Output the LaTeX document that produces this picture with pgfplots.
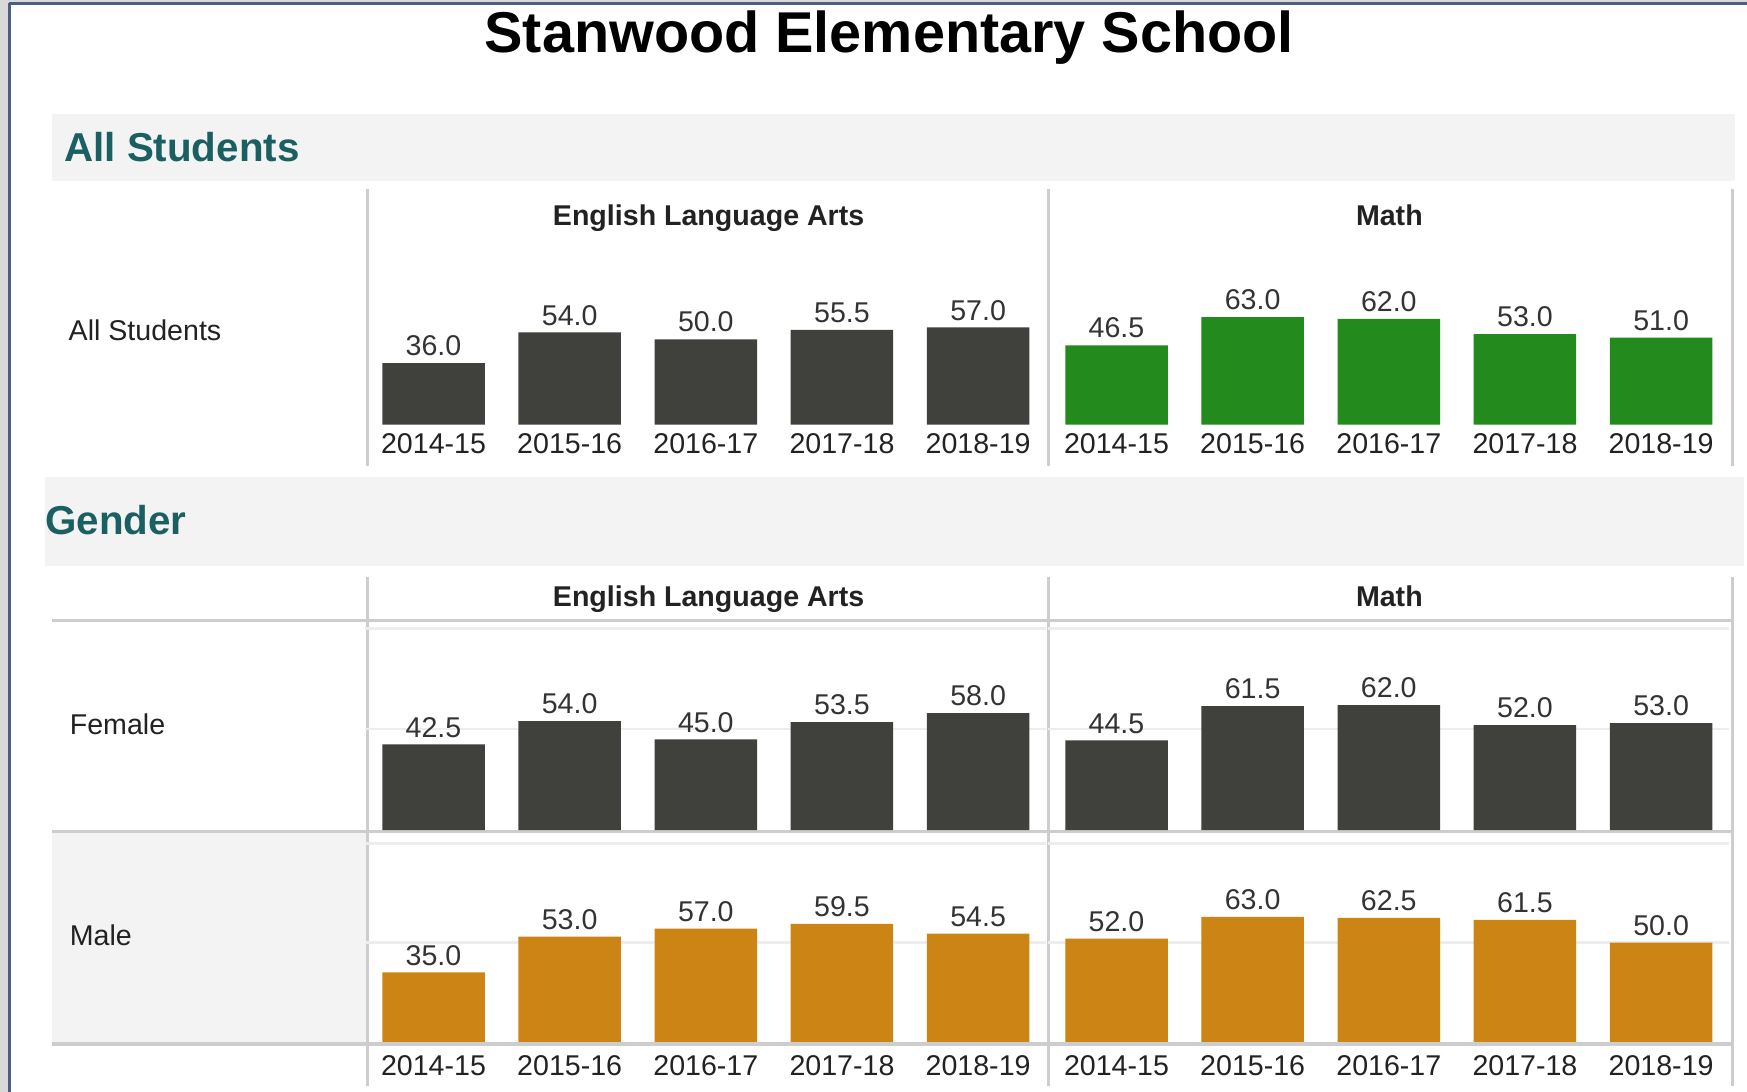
\documentclass[border=0pt]{standalone}
\usepackage{fontspec}
\setmainfont{Liberation Sans}
\usepackage{pgfplots}
\pgfplotsset{compat=1.18}

\definecolor{barDark}{HTML}{40403C}
\definecolor{barGreen}{HTML}{238A1E}
\definecolor{barOrange}{HTML}{CC8414}
\definecolor{headTeal}{HTML}{1A5F62}
\definecolor{band}{HTML}{F3F3F3}
\definecolor{rulec}{HTML}{CDCDCD}
\definecolor{gridc}{HTML}{EDEDED}
\definecolor{framec}{HTML}{4E5E7E}
\definecolor{valtext}{HTML}{333333}
\definecolor{ticktext}{HTML}{222222}

\newcommand\smallf{\fontsize{7.3}{8.8}\selectfont}

\pgfplotsset{
  panel/.style={
    scale only axis, width=6.11cm,
    xmin=0.5, xmax=5.5, ymin=0, ymax=100,
    ybar, bar width=0.92cm, clip=false,
    axis line style={draw=none}, major tick style={draw=none},
    xtick={1,...,5}, xticklabels={}, ytick=\empty,
    xticklabel style={font=\smallf, text=ticktext},
    nodes near coords,
    nodes near coords style={font=\smallf, text=valtext, inner sep=1.6pt},
    /pgf/number format/fixed, /pgf/number format/fixed zerofill,
    /pgf/number format/precision=1,
    /pgf/number format/assume math mode=true,
  },
  years/.style={xticklabels={2014-15,2015-16,2016-17,2017-18,2018-19},
    xticklabel style={yshift=#1}},
  years/.default=0.19cm,
  grid50/.style={ytick={50,100}, yticklabels={}, ymajorgrids,
    grid style={draw=gridc, line width=0.6pt}},
}

\begin{document}
\begin{tikzpicture}
\path[use as bounding box, fill=white] (0,0) rectangle (15.68,-9.80);

% window frame
\fill[gray!30] (0,0) rectangle (0.08,-9.80);
\fill[gray!30] (0,0) rectangle (15.68,-0.02);
\draw[framec, line width=0.9pt] (0.085,-0.03) -- (0.085,-9.80);
\draw[framec, line width=0.9pt] (0.085,-0.03) -- (15.68,-0.03);

% section bands
\fill[band] (0.47,-1.02) rectangle (15.57,-1.62);
\fill[band] (0.40,-4.28) rectangle (15.65,-5.08);
\fill[band] (0.47,-7.46) rectangle (3.30,-9.37);

% table rules
\foreach \x in {3.30,9.41,15.55}{
  \draw[rulec, line width=0.85pt] (\x,-1.70) -- (\x,-4.18);
  \draw[rulec, line width=0.85pt] (\x,-5.18) -- (\x,-9.75);
}
\draw[rulec, line width=0.6pt] (0.47,-5.57) -- (15.55,-5.57);
\draw[rulec, line width=0.85pt] (0.47,-7.46) -- (15.55,-7.46);
\draw[rulec, line width=0.85pt] (0.47,-9.37) -- (15.55,-9.37);

% row 1: all students
\begin{axis}[panel, years, height=1.53cm, at={(3.28cm,-3.81cm)}, anchor=south west]
\addplot[fill=barDark, draw=none] coordinates {(1,36.0) (2,54.0) (3,50.0) (4,55.5) (5,57.0)};
\end{axis}
\begin{axis}[panel, years, height=1.53cm, at={(9.41cm,-3.81cm)}, anchor=south west]
\addplot[fill=barGreen, draw=none] coordinates {(1,46.5) (2,63.0) (3,62.0) (4,53.0) (5,51.0)};
\end{axis}

% female
\begin{axis}[panel, grid50, height=1.81cm, at={(3.28cm,-7.45cm)}, anchor=south west]
\addplot[fill=barDark, draw=none] coordinates {(1,42.5) (2,54.0) (3,45.0) (4,53.5) (5,58.0)};
\end{axis}
\begin{axis}[panel, grid50, height=1.81cm, at={(9.41cm,-7.45cm)}, anchor=south west]
\addplot[fill=barDark, draw=none] coordinates {(1,44.5) (2,61.5) (3,62.0) (4,52.0) (5,53.0)};
\end{axis}

% male
\begin{axis}[panel, grid50, years=0.15cm, height=1.78cm, at={(3.28cm,-9.35cm)}, anchor=south west]
\addplot[fill=barOrange, draw=none] coordinates {(1,35.0) (2,53.0) (3,57.0) (4,59.5) (5,54.5)};
\end{axis}
\begin{axis}[panel, grid50, years=0.15cm, height=1.78cm, at={(9.41cm,-9.35cm)}, anchor=south west]
\addplot[fill=barOrange, draw=none] coordinates {(1,52.0) (2,63.0) (3,62.5) (4,61.5) (5,50.0)};
\end{axis}

% text
\node[anchor=base, font=\fontsize{14.7}{17}\bfseries] at (7.98,-0.47) {Stanwood Elementary School};
\node[anchor=base west, inner sep=0, text=headTeal, font=\fontsize{10.3}{12}\bfseries] at (0.57,-1.45) {All Students};
\node[anchor=base west, inner sep=0, text=headTeal, font=\fontsize{10.3}{12}\bfseries] at (0.40,-4.80) {Gender};
\foreach \y in {-2.02,-5.44}{
  \node[anchor=base, inner sep=0, font=\smallf\bfseries, text=ticktext] at (6.36,\y) {English Language Arts};
  \node[anchor=base, inner sep=0, font=\smallf\bfseries, text=ticktext] at (12.47,\y) {Math};
}
\node[anchor=base west, inner sep=0, font=\smallf, text=ticktext] at (0.61,-3.06) {All Students};
\node[anchor=base west, inner sep=0, font=\smallf, text=ticktext] at (0.62,-6.59) {Female};
\node[anchor=base west, inner sep=0, font=\smallf, text=ticktext] at (0.62,-8.49) {Male};
\end{tikzpicture}
\end{document}
